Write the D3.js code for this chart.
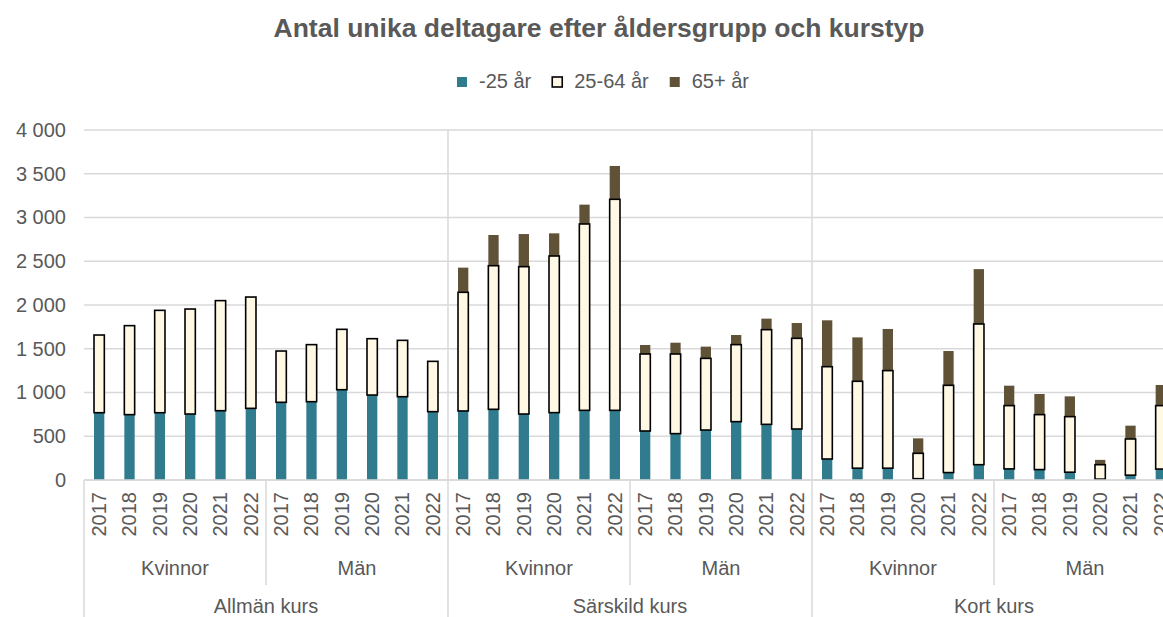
<!DOCTYPE html>
<html><head><meta charset="utf-8">
<script src="https://cdn.jsdelivr.net/npm/d3@7"></script>
<style>
html,body{margin:0;padding:0;background:#fff;overflow:hidden}
text{font-family:"Liberation Sans",Arial,sans-serif;fill:#595959}
</style></head>
<body>
<svg id="chart" width="1163" height="617"></svg>
<script>
// ---- data ----
const courses = ["Allmän kurs", "Särskild kurs", "Kort kurs"];
const genders = ["Kvinnor", "Män"];
const years = ["2017", "2018", "2019", "2020", "2021", "2022"];
const seriesNames = ["-25 år", "25-64 år", "65+ år"];
const yTicks = [0, 500, 1000, 1500, 2000, 2500, 3000, 3500, 4000];
// order: course -> gender -> year
const under25 = [
  769, 747, 769, 754, 792, 819,   888, 895, 1032, 971, 952, 781,
  789, 808, 754, 770, 796, 796,   560, 530, 571, 667, 636, 583,
  240, 135, 135, 15, 85, 175,     127, 119, 89, 10, 55, 125
];
const age25to64 = [
  888, 1017, 1170, 1200, 1258, 1272,   586, 652, 690, 644, 644, 575,
  1356, 1641, 1684, 1790, 2130, 2412,  880, 910, 819, 880, 1082, 1036,
  1055, 993, 1115, 290, 997, 1608,     723, 628, 635, 165, 414, 725
];
const age65plus = [
  0, 0, 0, 0, 0, 0,               0, 0, 0, 0, 0, 0,
  282, 351, 373, 259, 221, 381,   103, 129, 134, 110, 126, 175,
  530, 502, 476, 171, 392, 627,   228, 236, 232, 55, 152, 236
];

(function () {
// ---- build rows ----
const rows = [];
courses.forEach((c, ci) => genders.forEach((g, gi) => years.forEach((yv, yi) => {
  const i = ci * 12 + gi * 6 + yi;
  rows.push({key: i, course: c, gender: g, year: yv, a: under25[i], b: age25to64[i], c: age65plus[i]});
})));

const colors = ["#307B8D", "#FEF8E4", "#605237"];
const svg = d3.select("#chart");
const plotLeft = 84, pitch = 30.333, plotTop = 130, plotBottom = 480;
const x = d3.scaleBand().domain(rows.map(d => d.key)).range([plotLeft, plotLeft + pitch * rows.length]).paddingInner(0.66).paddingOuter(0.33);
const y = d3.scaleLinear().domain([0, 4000]).range([plotBottom, plotTop]);
const fmt = d3.formatLocale({decimal: ",", thousands: " ", grouping: [3], currency: ["", ""]}).format(",d");
const rightEdge = plotLeft + pitch * rows.length;
const edge = i => plotLeft + pitch * i;

// gridlines
svg.append("g").selectAll("line").data(yTicks).join("line")
  .attr("x1", plotLeft).attr("x2", rightEdge)
  .attr("y1", d => y(d)).attr("y2", d => y(d))
  .attr("stroke", "#D9D9D9").attr("stroke-width", 1.5);

// y axis labels
const yAxis = d3.axisLeft(y).tickValues(yTicks).tickFormat(fmt).tickSize(0).tickPadding(0);
const ya = svg.append("g").attr("transform", "translate(66,0)").call(yAxis);
ya.select(".domain").remove();
ya.selectAll("text").attr("font-size", 20).style("fill", "#595959").attr("font-family", '"Liberation Sans",Arial,sans-serif');

// course separators (full height)
svg.append("g").selectAll("line").data([0, 12, 24, 36]).join("line")
  .attr("x1", d => edge(d)).attr("x2", d => edge(d))
  .attr("y1", d => d === 0 ? plotBottom : plotTop).attr("y2", 617)
  .attr("stroke", "#D9D9D9").attr("stroke-width", 1.5);
// gender separators
svg.append("g").selectAll("line").data([6, 18, 30]).join("line")
  .attr("x1", d => edge(d)).attr("x2", d => edge(d))
  .attr("y1", plotBottom).attr("y2", 585)
  .attr("stroke", "#D9D9D9").attr("stroke-width", 1.5);

// bars
const g = svg.append("g");
g.selectAll("rect.a").data(rows).join("rect").attr("class", "a")
  .attr("x", d => x(d.key)).attr("width", x.bandwidth())
  .attr("y", d => y(d.a)).attr("height", d => y(0) - y(d.a))
  .attr("fill", colors[0]);
g.selectAll("rect.c").data(rows.filter(d => d.c > 0)).join("rect").attr("class", "c")
  .attr("x", d => x(d.key)).attr("width", x.bandwidth())
  .attr("y", d => y(d.a + d.b + d.c)).attr("height", d => y(d.a + d.b) - y(d.a + d.b + d.c))
  .attr("fill", colors[2]);
g.selectAll("rect.b").data(rows).join("rect").attr("class", "b")
  .attr("x", d => x(d.key)).attr("width", x.bandwidth())
  .attr("y", d => y(d.a + d.b)).attr("height", d => y(d.a) - y(d.a + d.b))
  .attr("fill", colors[1]).attr("stroke", "#000").attr("stroke-width", 1.6);

// x axis line
svg.append("line").attr("x1", plotLeft).attr("x2", rightEdge).attr("y1", plotBottom).attr("y2", plotBottom)
  .attr("stroke", "#D9D9D9").attr("stroke-width", 1.5);

// year labels
svg.append("g").selectAll("text").data(rows).join("text")
  .attr("transform", d => `translate(${x(d.key) + x.bandwidth() / 2},492) rotate(-90)`)
  .attr("dy", "0.35em").attr("text-anchor", "end").attr("font-size", 20)
  .text(d => d.year);

// gender labels
const genderGroups = [];
courses.forEach((c, ci) => genders.forEach((gn, gi) => genderGroups.push({name: gn, s: ci * 12 + gi * 6})));
svg.append("g").selectAll("text").data(genderGroups).join("text")
  .attr("x", d => (x(d.s) + x(d.s + 5) + x.bandwidth()) / 2).attr("y", 575)
  .attr("text-anchor", "middle").attr("font-size", 20).text(d => d.name);

// course labels
svg.append("g").selectAll("text").data(courses).join("text")
  .attr("x", (d, i) => (x(i * 12) + x(i * 12 + 11) + x.bandwidth()) / 2).attr("y", 613)
  .attr("text-anchor", "middle").attr("font-size", 20).text(d => d);

// title
svg.append("text").attr("x", 599).attr("y", 37).attr("text-anchor", "middle")
  .attr("font-size", 26.5).attr("font-weight", "bold")
  .text("Antal unika deltagare efter åldersgrupp och kurstyp");

// legend
const lg = svg.append("g");
let lx = 0;
seriesNames.forEach((n, i) => {
  const it = lg.append("g");
  it.append("rect").attr("x", 0).attr("y", -11).attr("width", 10).attr("height", 10)
    .attr("fill", colors[i]).attr("stroke", i === 1 ? "#000" : "none").attr("stroke-width", 1.6);
  const t = it.append("text").attr("x", 22).attr("y", 0).attr("font-size", 20).text(n);
  const w = t.node().getComputedTextLength();
  it.attr("transform", `translate(${lx},0)`);
  lx += 22 + w + 21;
});
const total = lx - 21;
lg.attr("transform", `translate(${603 - total / 2},88)`);
})();
</script>
</body></html>
